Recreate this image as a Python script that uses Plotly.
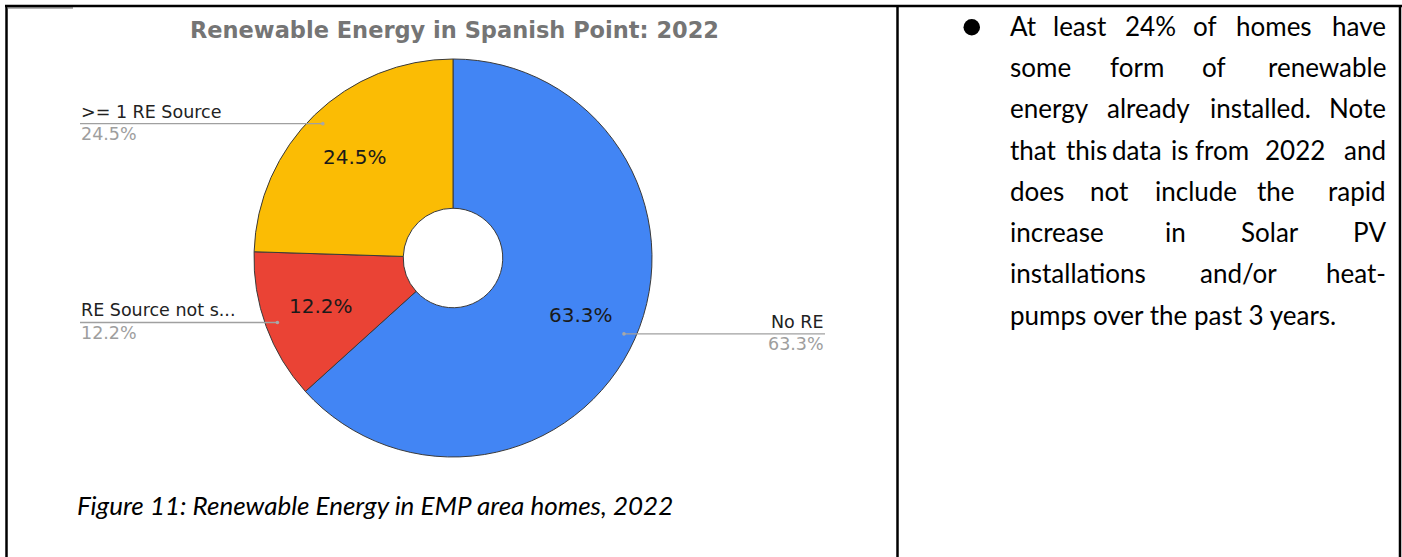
import math
import plotly.graph_objects as go

# ---------------- data ----------------
labels = ["No RE", "RE Source not s...", ">= 1 RE Source"]
values = [63.3, 12.2, 24.5]
colors = ["#4285F4", "#EA4335", "#FBBC04"]
chart_title = "Renewable Energy in Spanish Point: 2022"
caption = "Figure 11: Renewable Energy in EMP area homes, 2022"

# justified paragraph: words per line and their centre x positions (layout)
# first word of each line is left-aligned, last word of justified lines right-aligned
note_words = [
    ["At", "least", "24%", "of", "homes", "have"],
    ["some", "form", "of", "renewable"],
    ["energy", "already", "installed.", "Note"],
    ["that", "this", "data", "is", "from", "2022", "and"],
    ["does", "not", "include", "the", "rapid"],
    ["increase", "in", "Solar", "PV"],
    ["installations", "and/or", "heat-"],
    ["pumps over the past 3 years."],
]
note_mid_x = [
    [1080, 1150, 1205, 1274],
    [1137, 1214],
    [1148, 1260],
    [1086, 1137, 1180, 1222, 1295],
    [1109, 1196, 1276],
    [1175, 1270],
    [1238],
    [],
]

# ---------------- layout constants ----------------
W, H = 1402, 557
CX, CY, R = 453, 258, 199
TEXT_LEFT, TEXT_RIGHT = 1009, 1387
CHART_FONT = "DejaVu Sans"
DOC_FONT = "Lato"

fig = go.Figure()

fig.add_trace(go.Pie(
    labels=labels, values=values, sort=False, direction="clockwise",
    rotation=0, hole=0.25,
    marker=dict(colors=colors, line=dict(color="#3a3a3a", width=1)),
    textinfo="none",
    hoverinfo="label+percent", showlegend=False,
    domain=dict(x=[(CX - R) / W, (CX + R) / W],
                y=[1 - (CY + R) / H, 1 - (CY - R) / H]),
))

shapes = []
annotations = []

# table borders
border = dict(color="#000000", width=2.5)
shapes.append(dict(type="line", x0=5, x1=W, y0=6, y1=6, line=border))
shapes.append(dict(type="line", x0=6.5, x1=6.5, y0=5, y1=H, line=border))
shapes.append(dict(type="line", x0=897.5, x1=897.5, y0=5, y1=H, line=border))
shapes.append(dict(type="line", x0=1400, x1=1400, y0=5, y1=H, line=border))
shapes.append(dict(type="line", x0=7, x1=73, y0=7.8, y1=7.8,
                   line=dict(color="#666666", width=1.2)))

# chart title
annotations.append(dict(x=454, y=29.5, text="<b>" + chart_title + "</b>",
                        showarrow=False, xanchor="center", yanchor="middle",
                        font=dict(family=CHART_FONT, size=22.5, color="#757575")))

# slice labels, leader lines and outside labels, positioned from the data angles
total = sum(values)
cum = 0.0
LEFT_X, RIGHT_X = 80, 825
for lab, val in zip(labels, values):
    mid = (cum + val / 2) / total * 2 * math.pi
    cum += val
    # inside label
    ix = CX + 0.705 * R * math.sin(mid)
    iy = CY - 0.705 * R * math.cos(mid)
    annotations.append(dict(x=ix, y=iy, text=f"{val:.1f}%", showarrow=False,
                            xanchor="center", yanchor="middle",
                            font=dict(family=CHART_FONT, size=20, color="#1a1a1a")))
    # leader line
    ax = CX + 0.94 * R * math.sin(mid)
    ay = CY - 0.94 * R * math.cos(mid)
    if ax < CX:
        lx, anchor = LEFT_X, "left"
    else:
        lx, anchor = RIGHT_X, "right"
    shapes.append(dict(type="line", x0=lx, x1=ax, y0=ay, y1=ay,
                       line=dict(color="#a0a0a0", width=1.4)))
    shapes.append(dict(type="circle", x0=ax - 1.8, x1=ax + 1.8,
                       y0=ay - 1.8, y1=ay + 1.8,
                       fillcolor="#a8a8a8", line=dict(width=0)))
    fs = 17.5
    annotations.append(dict(x=lx, y=ay - 6 - 0.346 * fs, text=lab,
                            showarrow=False, xanchor=anchor, yanchor="middle",
                            font=dict(family=CHART_FONT, size=fs, color="#222222")))
    annotations.append(dict(x=lx, y=ay + 16.5 - 0.346 * fs,
                            text=f"{val:.1f}%", showarrow=False,
                            xanchor=anchor, yanchor="middle",
                            font=dict(family=CHART_FONT, size=fs, color="#9e9e9e")))

# caption
cfs = 26
annotations.append(dict(x=76, y=515 - 0.387 * cfs, text="<i>" + caption + "</i>",
                        showarrow=False, xanchor="left", yanchor="middle",
                        font=dict(family=DOC_FONT, size=cfs, color="#000000")))

# bullet
shapes.append(dict(type="circle", x0=963.5, x1=980, y0=19, y1=35.5,
                   fillcolor="#000000", line=dict(width=0)))

# paragraph
tfs = 26
tfont = dict(family=DOC_FONT, size=tfs, color="#000000")
for i, (words, mids) in enumerate(zip(note_words, note_mid_x)):
    base = 35.7 + 41.3 * i
    yc = base - 0.387 * tfs
    annotations.append(dict(x=TEXT_LEFT, y=yc, text=words[0], showarrow=False,
                            xanchor="left", yanchor="middle", font=tfont))
    if len(words) > 1:
        for w, x in zip(words[1:-1], mids):
            annotations.append(dict(x=x, y=yc, text=w, showarrow=False,
                                    xanchor="center", yanchor="middle", font=tfont))
        annotations.append(dict(x=TEXT_RIGHT, y=yc, text=words[-1], showarrow=False,
                                xanchor="right", yanchor="middle", font=tfont))

fig.update_layout(
    width=W, height=H, margin=dict(l=0, r=0, t=0, b=0),
    paper_bgcolor="#ffffff", plot_bgcolor="rgba(0,0,0,0)",
    xaxis=dict(range=[0, W], visible=False, fixedrange=True, domain=[0, 1]),
    yaxis=dict(range=[H, 0], visible=False, fixedrange=True, domain=[0, 1]),
    shapes=shapes, annotations=annotations,
)
for a in fig.layout.annotations:
    a.xref = "x"
    a.yref = "y"
    a.borderpad = 0
for s in fig.layout.shapes:
    s.xref = "x"
    s.yref = "y"
    s.layer = "above"

fig.write_html("out.html")
